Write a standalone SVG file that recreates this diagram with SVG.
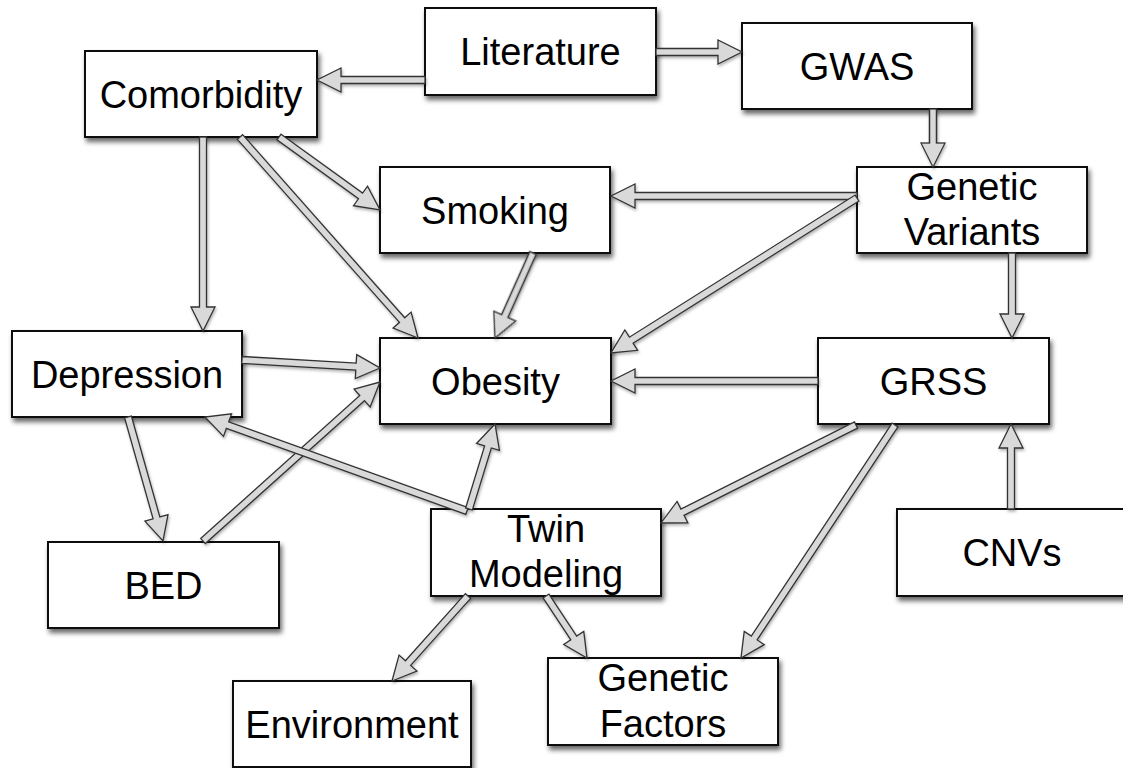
<svg xmlns="http://www.w3.org/2000/svg" width="1123" height="768" viewBox="0 0 1123 768">
<defs>
<filter id="sh" x="-20%" y="-20%" width="140%" height="150%">
<feDropShadow dx="2" dy="4" stdDeviation="2.5" flood-color="#000" flood-opacity="0.6"/>
</filter>
<filter id="ash" x="-20%" y="-20%" width="140%" height="140%">
<feDropShadow dx="1" dy="2" stdDeviation="1.5" flood-color="#000" flood-opacity="0.3"/>
</filter>
</defs>
<style>
.box{fill:#fff;stroke:#111;stroke-width:2}
.t{font-family:"Liberation Sans",Arial,Helvetica,sans-serif;font-size:38px;fill:#000;text-anchor:middle}
.arr polygon{fill:#d9d9d9;stroke:#333;stroke-width:1.3;stroke-linejoin:miter}
</style>
<rect width="1123" height="768" fill="#fff"/>
<g id="nodes">
<g id="literature"><rect class="box" filter="url(#sh)" x="425" y="8" width="231" height="87"/><text class="t" x="540.5" y="65">Literature</text></g>
<g id="comorbidity"><rect class="box" filter="url(#sh)" x="85" y="51" width="232" height="86"/><text class="t" x="201" y="108">Comorbidity</text></g>
<g id="gwas"><rect class="box" filter="url(#sh)" x="742" y="23" width="230" height="86"/><text class="t" x="857" y="80">GWAS</text></g>
<g id="genetic-variants"><rect class="box" filter="url(#sh)" x="857" y="167" width="230" height="86"/><text class="t" x="972" y="200">Genetic</text><text class="t" x="972" y="245">Variants</text></g>
<g id="smoking"><rect class="box" filter="url(#sh)" x="380" y="167" width="230" height="86"/><text class="t" x="495" y="224">Smoking</text></g>
<g id="depression"><rect class="box" filter="url(#sh)" x="12" y="331" width="230" height="86"/><text class="t" x="127" y="388">Depression</text></g>
<g id="obesity"><rect class="box" filter="url(#sh)" x="380" y="338" width="231" height="86"/><text class="t" x="495.5" y="395">Obesity</text></g>
<g id="grss"><rect class="box" filter="url(#sh)" x="818" y="338" width="231" height="86"/><text class="t" x="933.5" y="395">GRSS</text></g>
<g id="bed"><rect class="box" filter="url(#sh)" x="48" y="542" width="231" height="86"/><text class="t" x="163.5" y="599">BED</text></g>
<g id="twin-modeling"><rect class="box" filter="url(#sh)" x="431" y="509" width="230" height="87"/><text class="t" x="546" y="542">Twin</text><text class="t" x="546" y="587">Modeling</text></g>
<g id="cnvs"><rect class="box" filter="url(#sh)" x="897" y="509" width="230" height="87"/><text class="t" x="1012" y="566">CNVs</text></g>
<g id="genetic-factors"><rect class="box" filter="url(#sh)" x="548" y="658" width="230" height="87"/><text class="t" x="663" y="691">Genetic</text><text class="t" x="663" y="737">Factors</text></g>
<g id="environment"><rect class="box" filter="url(#sh)" x="233" y="681" width="238" height="86"/><text class="t" x="352" y="738">Environment</text></g>
</g>
<g id="connectors" class="arr" filter="url(#ash)">
<polygon transform="translate(425 80) rotate(180)" points="0,-3.5 84,-3.5 84,-12 108,0 84,12 84,3.5 0,3.5"/>
<polygon transform="translate(656 52) rotate(0)" points="0,-3.5 62,-3.5 62,-12 86,0 62,12 62,3.5 0,3.5"/>
<polygon transform="translate(933 109) rotate(90)" points="0,-3.5 34,-3.5 34,-12 58,0 34,12 34,3.5 0,3.5"/>
<polygon transform="translate(857 196) rotate(180)" points="0,-3.5 222,-3.5 222,-12 246,0 222,12 222,3.5 0,3.5"/>
<polygon transform="translate(857 198) rotate(147.8)" points="0,-3.5 266.8,-3.5 266.8,-12 290.8,0 266.8,12 266.8,3.5 0,3.5"/>
<polygon transform="translate(279 137) rotate(35.86)" points="0,-3.5 100.6,-3.5 100.6,-12 124.6,0 100.6,12 100.6,3.5 0,3.5"/>
<polygon transform="translate(240 137) rotate(48.47)" points="0,-3.5 244.5,-3.5 244.5,-12 268.5,0 244.5,12 244.5,3.5 0,3.5"/>
<polygon transform="translate(203 137) rotate(90)" points="0,-3.5 170,-3.5 170,-12 194,0 170,12 170,3.5 0,3.5"/>
<polygon transform="translate(242 360) rotate(3.32)" points="0,-3.5 114.2,-3.5 114.2,-12 138.2,0 114.2,12 114.2,3.5 0,3.5"/>
<polygon transform="translate(203 541) rotate(-41.93)" points="0,-3.5 213.9,-3.5 213.9,-12 237.9,0 213.9,12 213.9,3.5 0,3.5"/>
<polygon transform="translate(128 417) rotate(74.24)" points="0,-3.5 104.8,-3.5 104.8,-12 128.8,0 104.8,12 104.8,3.5 0,3.5"/>
<polygon transform="translate(467 511) rotate(-160.27)" points="0,-3.5 254.4,-3.5 254.4,-12 278.4,0 254.4,12 254.4,3.5 0,3.5"/>
<polygon transform="translate(469 509) rotate(-73)" points="0,-3.5 64.9,-3.5 64.9,-12 88.9,0 64.9,12 64.9,3.5 0,3.5"/>
<polygon transform="translate(818 381) rotate(180)" points="0,-3.5 183,-3.5 183,-12 207,0 183,12 183,3.5 0,3.5"/>
<polygon transform="translate(856 425) rotate(153.32)" points="0,-3.5 194.2,-3.5 194.2,-12 218.2,0 194.2,12 194.2,3.5 0,3.5"/>
<polygon transform="translate(895 425) rotate(123.46)" points="0,-3.5 255.3,-3.5 255.3,-12 279.3,0 255.3,12 255.3,3.5 0,3.5"/>
<polygon transform="translate(1011 509) rotate(-90)" points="0,-3.5 61,-3.5 61,-12 85,0 61,12 61,3.5 0,3.5"/>
<polygon transform="translate(468 596) rotate(131.8)" points="0,-3.5 90,-3.5 90,-12 114,0 90,12 90,3.5 0,3.5"/>
<polygon transform="translate(546 596) rotate(56.52)" points="0,-3.5 50.3,-3.5 50.3,-12 74.3,0 50.3,12 50.3,3.5 0,3.5"/>
<polygon transform="translate(533 253) rotate(114.1)" points="0,-3.5 69.1,-3.5 69.1,-12 93.1,0 69.1,12 69.1,3.5 0,3.5"/>
<polygon transform="translate(1012 253) rotate(90)" points="0,-3.5 61,-3.5 61,-12 85,0 61,12 61,3.5 0,3.5"/>
</g>
</svg>
